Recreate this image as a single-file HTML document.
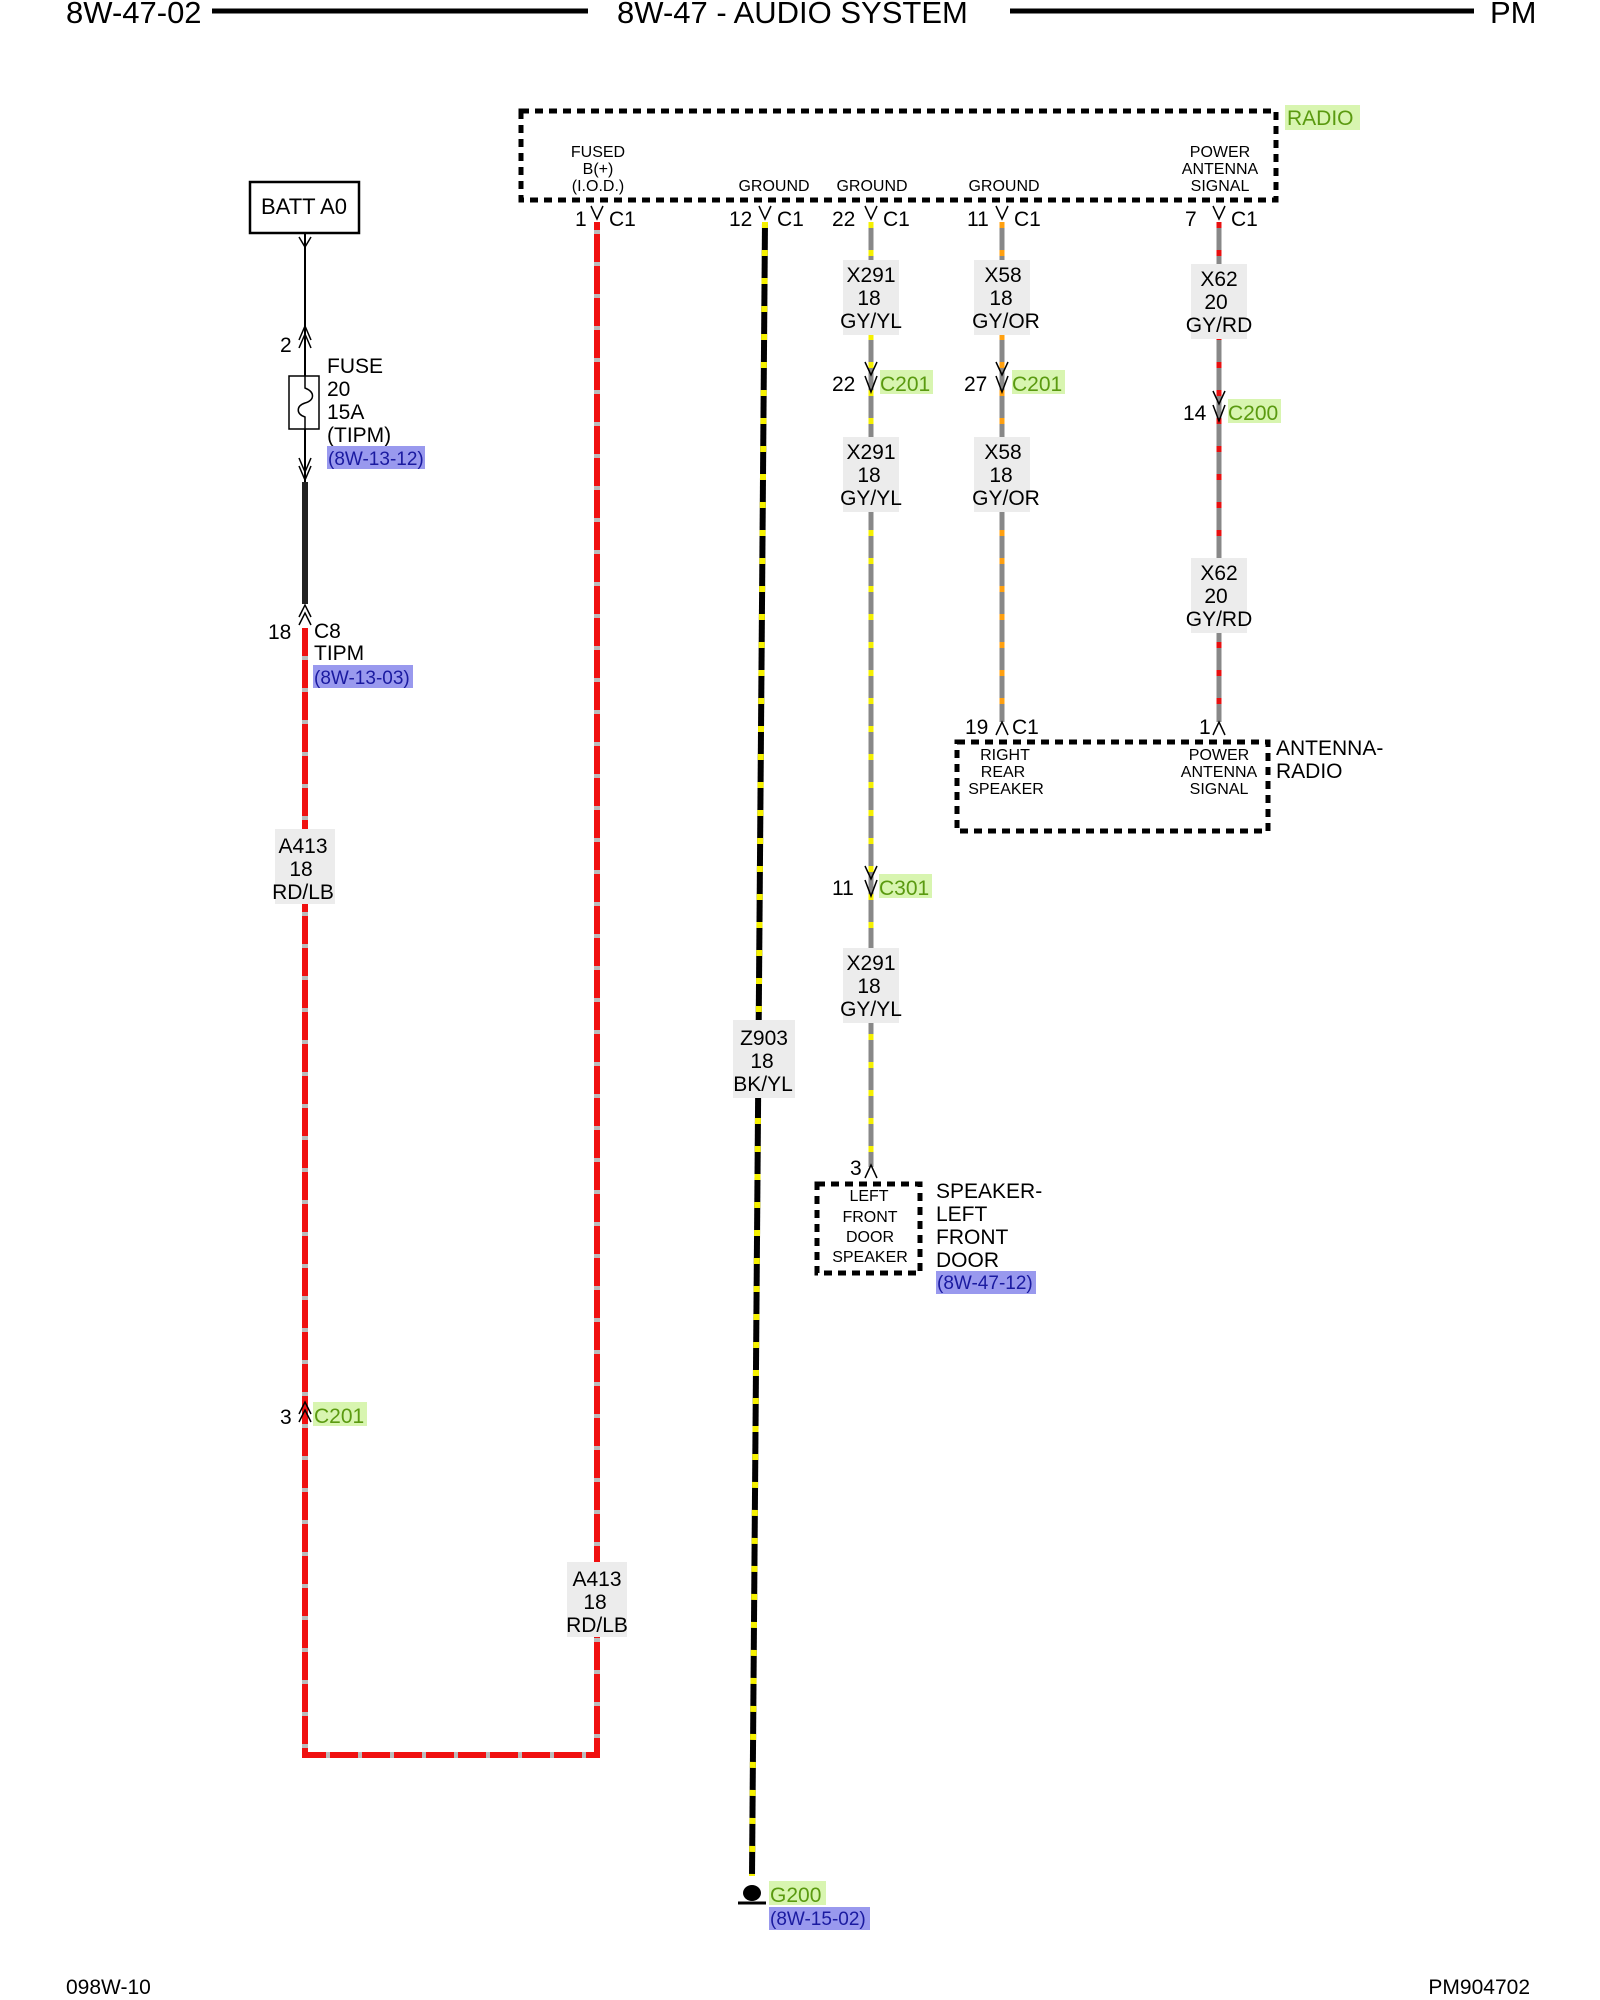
<!DOCTYPE html>
<html><head><meta charset="utf-8"><style>
html,body{margin:0;padding:0;background:#fff}
svg{display:block}
text{font-family:"Liberation Sans",sans-serif;fill:#000}
</style></head><body>
<svg width="1600" height="2000" viewBox="0 0 1600 2000" xmlns="http://www.w3.org/2000/svg">
<!-- header -->
<text x="66" y="23" font-size="31">8W-47-02</text>
<line x1="212" y1="11" x2="588" y2="11" stroke="#000" stroke-width="5"/>
<text x="617" y="23" font-size="31">8W-47 - AUDIO SYSTEM</text>
<line x1="1010" y1="11" x2="1474" y2="11" stroke="#000" stroke-width="5"/>
<text x="1490" y="23" font-size="31">PM</text>

<!-- radio box -->
<rect x="521" y="111" width="755" height="89" fill="none" stroke="#000" stroke-width="5" stroke-dasharray="8,6"/>
<rect x="1285" y="105" width="75" height="25" fill="#d8f5b0"/>
<text x="1287" y="125" font-size="21" style="fill:#5a9a10">RADIO</text>
<g font-size="16" text-anchor="middle">
<text x="598" y="157">FUSED</text><text x="598" y="174">B(+)</text><text x="598" y="191">(I.O.D.)</text>
<text x="774" y="191">GROUND</text><text x="872" y="191">GROUND</text><text x="1004" y="191">GROUND</text>
<text x="1220" y="157">POWER</text><text x="1220" y="174">ANTENNA</text><text x="1220" y="191">SIGNAL</text>
</g>

<!-- BATT -->
<rect x="250" y="182" width="109" height="51" fill="#fff" stroke="#000" stroke-width="2.5"/>
<text x="304" y="214" font-size="22" text-anchor="middle">BATT A0</text>
<line x1="305" y1="233" x2="305" y2="482" stroke="#000" stroke-width="2"/>
<path d="M299,237 L305,247 L311,237" fill="none" stroke="#000" stroke-width="1.5"/>
<path d="M299,340 L305,326 L311,340 M299,348 L305,334 L311,348" fill="none" stroke="#000" stroke-width="1.5"/>
<text x="280" y="352" font-size="21">2</text>
<rect x="289" y="376" width="30" height="53" fill="#fff" stroke="#000" stroke-width="1.5"/>
<path d="M305,376 L305,388 C315,392 315,400 305,403 C296,406 296,414 305,417 L305,429" fill="none" stroke="#000" stroke-width="1.5"/>
<path d="M299,458 L305,472 L311,458 M299,466 L305,480 L311,466" fill="none" stroke="#000" stroke-width="1.5"/>
<g font-size="21"><text x="327" y="373">FUSE</text><text x="327" y="396">20</text><text x="327" y="419">15A</text><text x="327" y="442">(TIPM)</text></g>
<rect x="327" y="446" width="98" height="23" fill="#9999ee"/>
<text x="328" y="465" font-size="19" style="fill:#1a1aa0">(8W-13-12)</text>
<line x1="305" y1="482" x2="305" y2="604" stroke="#222" stroke-width="6"/>
<path d="M299,617 L305,605 L311,617 M299,625 L305,613 L311,625" fill="none" stroke="#000" stroke-width="1.5"/>
<text x="268" y="639" font-size="21">18</text>
<g font-size="21"><text x="314" y="638">C8</text><text x="314" y="660">TIPM</text></g>
<rect x="313" y="665" width="100" height="23" fill="#9999ee"/>
<text x="314" y="684" font-size="19" style="fill:#1a1aa0">(8W-13-03)</text>

<!-- red loop -->
<path d="M305,628 L305,1755 L597,1755 L597,222" fill="none" stroke="#bbb" stroke-width="6"/>
<path d="M305,628 L305,1755 L597,1755 L597,222" fill="none" stroke="#f01010" stroke-width="6" stroke-dasharray="28,4"/>
<path d="M299,1414 L305,1402 L311,1414 M299,1422 L305,1410 L311,1422" fill="none" stroke="#000" stroke-width="1.5"/>
<text x="280" y="1424" font-size="21">3</text>
<rect x="313" y="1402" width="54" height="24" fill="#d8f5b0"/>
<text x="314" y="1423" font-size="21" style="fill:#5a9a10">C201</text>

<!-- wire label boxes -->
<g font-size="21" text-anchor="middle">
<rect x="275" y="829" width="60" height="75" fill="#ececec"/>
<text x="303" y="853">A413</text><text x="301" y="876">18</text><text x="303" y="899">RD/LB</text>
<rect x="567" y="1562" width="60" height="75" fill="#ececec"/>
<text x="597" y="1586">A413</text><text x="595" y="1609">18</text><text x="597" y="1632">RD/LB</text>
</g>

<!-- black ground wire -->
<path d="M765,222 L752,1876" stroke="#000" stroke-width="6" fill="none"/>
<path d="M765,222 L752,1876" stroke="#f5f000" stroke-width="6" fill="none" stroke-dasharray="6,22"/>
<rect x="733" y="1020" width="62" height="78" fill="#ececec"/>
<g font-size="21" text-anchor="middle"><text x="764" y="1045">Z903</text><text x="762" y="1068">18</text><text x="763" y="1091">BK/YL</text></g>
<ellipse cx="752" cy="1893" rx="9" ry="8" fill="#000"/>
<line x1="738" y1="1903" x2="766" y2="1903" stroke="#000" stroke-width="3"/>
<rect x="769" y="1881" width="57" height="24" fill="#d8f5b0"/>
<text x="770" y="1902" font-size="21" style="fill:#5a9a10">G200</text>
<rect x="769" y="1907" width="101" height="23" fill="#9999ee"/>
<text x="770" y="1925" font-size="19" style="fill:#1a1aa0">(8W-15-02)</text>

<!-- X291 -->
<line x1="871" y1="222" x2="871" y2="1167" stroke="#888" stroke-width="5"/>
<line x1="871" y1="222" x2="871" y2="1167" stroke="#f5f000" stroke-width="5" stroke-dasharray="6,22"/>
<!-- X58 -->
<line x1="1002" y1="222" x2="1002" y2="722" stroke="#888" stroke-width="5"/>
<line x1="1002" y1="222" x2="1002" y2="722" stroke="#ffa010" stroke-width="5" stroke-dasharray="6,22"/>
<!-- X62 -->
<line x1="1219" y1="222" x2="1219" y2="722" stroke="#888" stroke-width="5"/>
<line x1="1219" y1="222" x2="1219" y2="722" stroke="#e81010" stroke-width="5" stroke-dasharray="6,22"/>

<!-- connectors -->
<g fill="none" stroke="#000" stroke-width="1.5">
<path d="M591,206 L597,219 L603,206"/><path d="M759,206 L765,219 L771,206"/><path d="M865,206 L871,219 L877,206"/><path d="M996,206 L1002,219 L1008,206"/><path d="M1213,206 L1219,219 L1225,206"/>
<path d="M865,362 L871,375 L877,362 M865,376 L871,392 L877,376"/>
<path d="M996,362 L1002,375 L1008,362 M996,376 L1002,392 L1008,376"/>
<path d="M1213,391 L1219,404 L1225,391 M1213,405 L1219,421 L1225,405"/>
<path d="M865,866 L871,879 L877,866 M865,880 L871,896 L877,880"/>
<path d="M996,735 L1002,722 L1008,735"/><path d="M1213,735 L1219,722 L1225,735"/>
<path d="M865,1178 L871,1165 L877,1178"/>
</g>
<g font-size="21">
<text x="575" y="226">1</text><text x="609" y="226">C1</text>
<text x="729" y="226">12</text><text x="777" y="226">C1</text>
<text x="832" y="226">22</text><text x="883" y="226">C1</text>
<text x="967" y="226">11</text><text x="1014" y="226">C1</text>
<text x="1185" y="226">7</text><text x="1231" y="226">C1</text>
<text x="832" y="391">22</text><text x="964" y="391">27</text><text x="1183" y="420">14</text>
<text x="832" y="895">11</text>
<text x="965" y="734">19</text><text x="1012" y="734">C1</text>
<text x="1199" y="734">1</text>
<text x="850" y="1175">3</text>
</g>
<g font-size="21">
<rect x="880" y="370" width="53" height="24" fill="#d8f5b0"/><text x="880" y="391" style="fill:#5a9a10">C201</text>
<rect x="1012" y="370" width="53" height="24" fill="#d8f5b0"/><text x="1012" y="391" style="fill:#5a9a10">C201</text>
<rect x="1228" y="399" width="53" height="24" fill="#d8f5b0"/><text x="1228" y="420" style="fill:#5a9a10">C200</text>
<rect x="879" y="874" width="53" height="24" fill="#d8f5b0"/><text x="879" y="895" style="fill:#5a9a10">C301</text>
</g>
<g font-size="21" text-anchor="middle">
<rect x="843" y="260" width="56" height="75" fill="#ececec"/><text x="871" y="282">X291</text><text x="869" y="305">18</text><text x="871" y="328">GY/YL</text>
<rect x="843" y="437" width="56" height="75" fill="#ececec"/><text x="871" y="459">X291</text><text x="869" y="482">18</text><text x="871" y="505">GY/YL</text>
<rect x="843" y="948" width="56" height="75" fill="#ececec"/><text x="871" y="970">X291</text><text x="869" y="993">18</text><text x="871" y="1016">GY/YL</text>
<rect x="974" y="260" width="56" height="75" fill="#ececec"/><text x="1003" y="282">X58</text><text x="1001" y="305">18</text><text x="1006" y="328">GY/OR</text>
<rect x="974" y="437" width="56" height="75" fill="#ececec"/><text x="1003" y="459">X58</text><text x="1001" y="482">18</text><text x="1006" y="505">GY/OR</text>
<rect x="1191" y="264" width="56" height="75" fill="#ececec"/><text x="1219" y="286">X62</text><text x="1216" y="309">20</text><text x="1219" y="332">GY/RD</text>
<rect x="1191" y="558" width="56" height="75" fill="#ececec"/><text x="1219" y="580">X62</text><text x="1216" y="603">20</text><text x="1219" y="626">GY/RD</text>
</g>

<!-- antenna box -->
<rect x="957" y="742" width="311" height="89" fill="none" stroke="#000" stroke-width="5" stroke-dasharray="8,6"/>
<g font-size="16" text-anchor="middle">
<text x="1005" y="760">RIGHT</text><text x="1003" y="777">REAR</text><text x="1006" y="794">SPEAKER</text>
<text x="1219" y="760">POWER</text><text x="1219" y="777">ANTENNA</text><text x="1219" y="794">SIGNAL</text>
</g>
<g font-size="21"><text x="1276" y="755">ANTENNA-</text><text x="1276" y="778">RADIO</text></g>

<!-- speaker box -->
<rect x="817" y="1184" width="103" height="89" fill="none" stroke="#000" stroke-width="5" stroke-dasharray="8,6"/>
<g font-size="16" text-anchor="middle">
<text x="869" y="1201">LEFT</text><text x="870" y="1222">FRONT</text><text x="870" y="1242">DOOR</text><text x="870" y="1262">SPEAKER</text>
</g>
<g font-size="21"><text x="936" y="1198">SPEAKER-</text><text x="936" y="1221">LEFT</text><text x="936" y="1244">FRONT</text><text x="936" y="1267">DOOR</text></g>
<rect x="936" y="1271" width="100" height="23" fill="#9999ee"/>
<text x="937" y="1289" font-size="19" style="fill:#1a1aa0">(8W-47-12)</text>

<!-- footer -->
<text x="66" y="1994" font-size="21">098W-10</text>
<text x="1530" y="1994" font-size="21" text-anchor="end">PM904702</text>
</svg>
</body></html>
